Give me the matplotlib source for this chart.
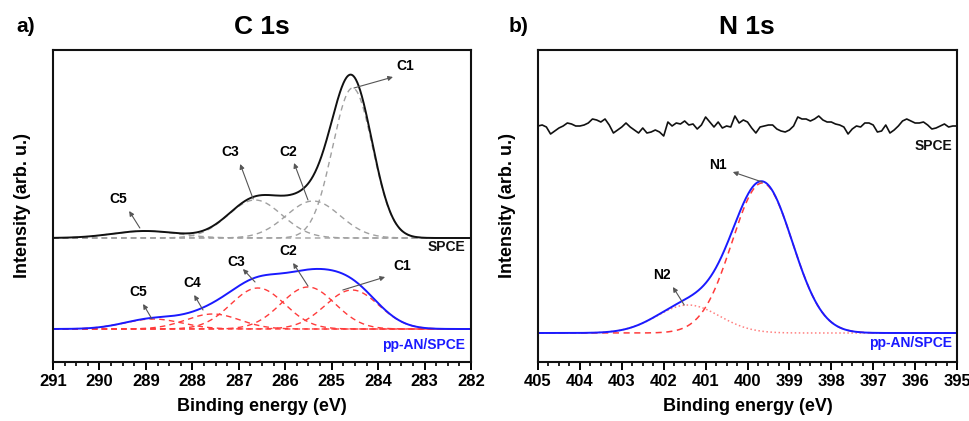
import numpy as np
import matplotlib
matplotlib.use("Agg")
import matplotlib.pyplot as plt
from matplotlib.ticker import MultipleLocator

plt.rcParams['font.family'] = ['Liberation Sans', 'DejaVu Sans']
plt.rcParams['font.weight'] = 'bold'

# ---------------- C 1s data (peak centre eV, height, sigma eV) ----------------
spce_c_names = ["C1", "C2", "C3", "C5"]
spce_c_centers = [284.55, 285.40, 286.65, 289.02]
spce_c_heights = [150, 37, 38, 7]
spce_c_sigmas = [0.43, 0.58, 0.58, 0.70]
spce_offset = 91

pp_c_names = ["C1", "C2", "C3", "C4", "C5"]
pp_c_centers = [284.56, 285.51, 286.59, 287.56, 288.85]
pp_c_heights = [39, 42, 41, 15, 10]
pp_c_sigmas = [0.58, 0.58, 0.58, 0.58, 0.62]

# label text position, arrow tail, arrow head (energy, intensity)
spce_c_labels = [("C1", (283.42, 263), (284.52, 241), (283.68, 252)),
                 ("C2", (285.94, 177), (285.51, 129), (285.81, 166)),
                 ("C3", (287.19, 177), (286.69, 130), (286.97, 165)),
                 ("C5", (289.60, 130), (289.13, 101), (289.36, 118))]
pp_c_labels = [("C1", (283.49, 63), (284.76, 39), (283.85, 52)),
               ("C2", (285.94, 78), (285.51, 43), (285.83, 66)),
               ("C3", (287.06, 67), (286.65, 47), (286.91, 60)),
               ("C4", (288.01, 46), (287.77, 19), (287.96, 34)),
               ("C5", (289.17, 37), (288.87, 10), (289.06, 25))]

# ---------------- N 1s data ----------------
pp_n_names = ["N1", "N2"]
pp_n_centers = [399.65, 401.42]
pp_n_heights = [150, 28]
pp_n_sigmas = [0.72, 0.75]
pp_n_styles = ["--", ":"]

n_labels = [("N1", (400.70, 168), (399.65, 151), (400.35, 161)),
            ("N2", (402.04, 58), (401.51, 28), (401.78, 46))]

spce_n_energy = [405.0 - 0.1 * k for k in range(101)]
spce_n_intensity = [207, 208, 206, 199, 202, 205, 207, 210, 209, 207,
                    207, 208, 210, 214, 213, 211, 214, 208, 200, 203,
                    206, 210, 206, 203, 200, 205, 200, 201, 203, 201,
                    197, 211, 207, 210, 209, 212, 208, 209, 204, 208,
                    216, 211, 206, 211, 205, 207, 206, 217, 210, 213,
                    211, 205, 200, 206, 207, 208, 208, 204, 202, 201,
                    203, 207, 216, 214, 214, 212, 214, 217, 213, 211,
                    211, 209, 208, 206, 199, 204, 207, 206, 210, 210,
                    208, 201, 202, 208, 200, 203, 207, 212, 214, 212,
                    210, 210, 211, 208, 204, 205, 207, 209, 206, 207,
                    207]


def gauss(x, c, h, s):
    return h * np.exp(-(x - c) ** 2 / (2 * s ** 2))


fig = plt.figure(figsize=(9.70, 4.21), dpi=100)
axL = fig.add_axes([53 / 970, 1 - 362 / 421, 418 / 970, 312 / 421])
axR = fig.add_axes([538 / 970, 1 - 362 / 421, 419 / 970, 312 / 421])

GRAY = '#a0a0a0'
RED = '#ff3b3b'
BLUE = '#1a1aff'
arrow_kw = dict(arrowstyle='-|>', color='#555555', lw=0.8, mutation_scale=7,
                shrinkA=0, shrinkB=0)

# ---- left panel ----
xc = np.linspace(291, 282, 1200)
tot = np.zeros_like(xc)
for c, h, s in zip(spce_c_centers, spce_c_heights, spce_c_sigmas):
    g = gauss(xc, c, h, s)
    tot += g
    axL.plot(xc, g + spce_offset, ls='--', color=GRAY, lw=1.0, dashes=(4, 3))
axL.plot(xc, tot + spce_offset, color='#111111', lw=1.4)

tot = np.zeros_like(xc)
for c, h, s in zip(pp_c_centers, pp_c_heights, pp_c_sigmas):
    g = gauss(xc, c, h, s)
    tot += g
    axL.plot(xc, g, ls='--', color=RED, lw=1.0, dashes=(4, 3))
axL.plot(xc, tot, color=BLUE, lw=1.4)

for name, txt, tail, head in spce_c_labels + pp_c_labels:
    axL.annotate('', xy=head, xytext=tail, arrowprops=arrow_kw)
    axL.text(txt[0], txt[1], name, ha='center', va='center', fontsize=10,
             fontweight='bold')

axL.text(282.12, 82, 'SPCE', ha='right', va='center', fontsize=10,
         fontweight='bold', color='#111111')
axL.text(282.12, -16, 'pp-AN/SPCE', ha='right', va='center', fontsize=10,
         fontweight='bold', color=BLUE)

axL.set_xlim(291, 282)
axL.set_ylim(-33, 279)
axL.xaxis.set_major_locator(MultipleLocator(1))
axL.xaxis.set_minor_locator(MultipleLocator(0.25))

# ---- right panel ----
xn = np.linspace(405, 395, 1200)
axR.plot(spce_n_energy, spce_n_intensity, color='#111111', lw=1.2)
tot = np.zeros_like(xn)
for c, h, s, st in zip(pp_n_centers, pp_n_heights, pp_n_sigmas, pp_n_styles):
    g = gauss(xn, c, h, s)
    tot += g
    if st == '--':
        axR.plot(xn, g, ls='--', color=RED, lw=1.1, dashes=(4, 3))
    else:
        axR.plot(xn, g, ls=':', color='#ff8080', lw=1.1)
axR.plot(xn, tot, color=BLUE, lw=1.4)

for name, txt, tail, head in n_labels:
    axR.annotate('', xy=head, xytext=tail, arrowprops=arrow_kw)
    axR.text(txt[0], txt[1], name, ha='center', va='center', fontsize=10,
             fontweight='bold')

axR.text(395.12, 187, 'SPCE', ha='right', va='center', fontsize=10,
         fontweight='bold', color='#111111')
axR.text(395.12, -10, 'pp-AN/SPCE', ha='right', va='center', fontsize=10,
         fontweight='bold', color=BLUE)

axR.set_xlim(405, 395)
axR.set_ylim(-29, 283)
axR.xaxis.set_major_locator(MultipleLocator(1))
axR.xaxis.set_minor_locator(MultipleLocator(0.25))

for ax in (axL, axR):
    ax.set_yticks([])
    for sp in ax.spines.values():
        sp.set_linewidth(1.5)
        sp.set_color('#111111')
    ax.tick_params(axis='x', which='major', direction='out', length=6,
                   width=1.4, labelsize=12, pad=3)
    ax.tick_params(axis='x', which='minor', direction='out', length=3,
                   width=1.2)
    for lab in ax.get_xticklabels():
        lab.set_fontweight('bold')
    ax.set_xlabel('Binding energy (eV)', fontsize=13, fontweight='bold',
                  labelpad=6)
    ax.set_ylabel('Intensity (arb. u.)', fontsize=13, fontweight='bold',
                  labelpad=16)

fig.text(262 / 970, 1 - 27 / 421, 'C 1s', ha='center', va='center',
         fontsize=19, fontweight='bold')
fig.text(747 / 970, 1 - 27 / 421, 'N 1s', ha='center', va='center',
         fontsize=19, fontweight='bold')
fig.text(26 / 970, 1 - 27 / 421, 'a)', ha='center', va='center',
         fontsize=15, fontweight='bold')
fig.text(519 / 970, 1 - 27 / 421, 'b)', ha='center', va='center',
         fontsize=15, fontweight='bold')

fig.savefig('out.png', dpi=100)
